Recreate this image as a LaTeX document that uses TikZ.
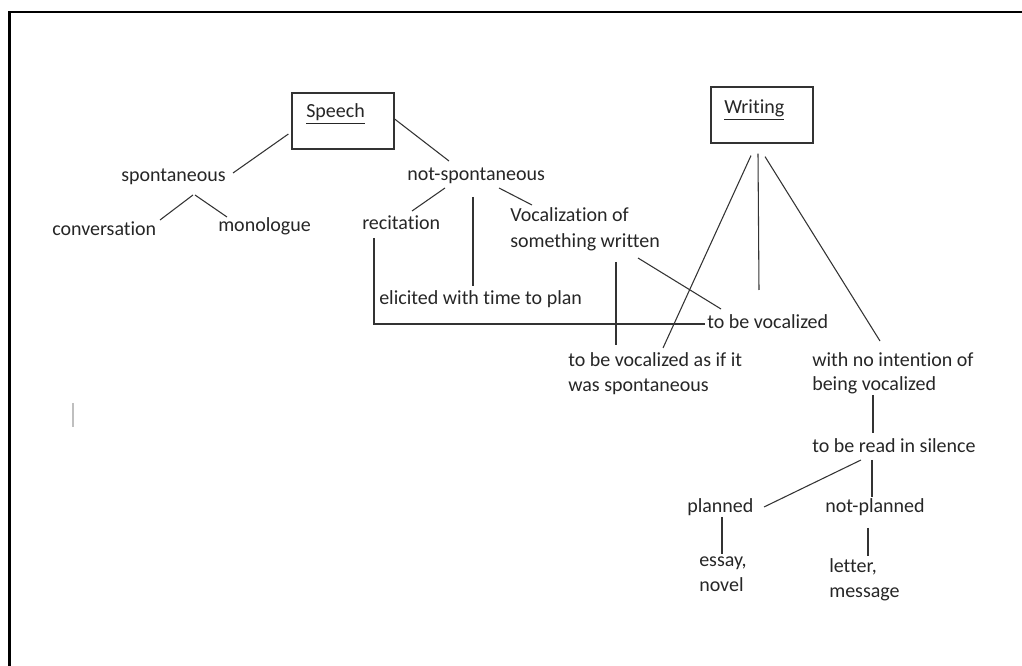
\documentclass[tikz,border=0pt]{standalone}
\usepackage{fontspec}
\setmainfont{Carlito}[Ligatures=NoCommon]
\usetikzlibrary{calc}
\begin{document}
\begin{tikzpicture}[x=0.75pt,y=-0.75pt,
  lbl/.style={anchor=base west,inner sep=0pt,font=\fontsize{15}{19}\selectfont,text=black!85},
  box/.style={draw=black!80,line width=0.9pt,minimum width=76.5pt,minimum height=42pt,inner sep=0pt},
  link/.style={draw=black!80,line width=0.8pt},
  frame/.style={draw=black,line width=1.9pt}]
\useasboundingbox (0,0) rectangle (1022,666);
% page frame (top and left only)
\coordinate (ftl) at (9.5,12);
\coordinate (ftr) at (1022,12);
\coordinate (fbl) at (9.5,666);
\draw[frame] (ftr) -- (ftl) -- (fbl);
% cursor mark
\coordinate (cur1) at (73,403);
\coordinate (cur2) at (73,427);
\draw[black!25,line width=1pt] (cur1) -- (cur2);
% boxes
\node[box] (speech) at (343,121) {};
\node[lbl] (speechlbl) at (306,118) {\underline{Speech}};
\node[box] (writing) at (762,115) {};
\node[lbl] (writinglbl) at (724,114) {\underline{Writing}};
% text nodes
\node[lbl] (spont) at (121,182) {spontaneous};
\node[lbl] (conv) at (52,236) {conversation};
\node[lbl] (mono) at (218,232) {monologue};
\node[lbl] (notsp) at (407,181) {not-spontaneous};
\node[lbl] (recit) at (362,230) {recitation};
\node[lbl] (vocala) at (510,222) {Vocalization of};
\node[lbl] (vocalb) at (510,248) {something written};
\node[lbl] (elicit) at (379,305) {elicited with time to plan};
\node[lbl] (tbv) at (707,329) {to be vocalized};
\node[lbl] (asifa) at (568,367) {to be vocalized as if it};
\node[lbl] (asifb) at (568,392) {was spontaneous};
\node[lbl] (nointa) at (812,367) {with no intention of};
\node[lbl] (nointb) at (812,391) {being vocalized};
\node[lbl] (silence) at (812,453) {to be read in silence};
\node[lbl] (planned) at (687,513) {planned};
\node[lbl] (notplanned) at (825,513) {not-planned};
\node[lbl] (essaya) at (699,567) {essay,};
\node[lbl] (essayb) at (699,592) {novel};
\node[lbl] (lettera) at (829,573) {letter,};
\node[lbl] (letterb) at (829,598) {message};
% connectors: speech side
\draw[link] ($(spont.base west)+(112,-9)$) -- ($(speech.west)+(-3,13)$);
\draw[link] ($(speech.east)+(0,-2)$) -- ($(notsp.base west)+(42,-20)$);
\draw[link] ($(spont.base west)+(72,13)$) -- ($(conv.base west)+(108,-16)$);
\draw[link] ($(spont.base west)+(74,13)$) -- ($(mono.base west)+(9,-15)$);
\draw[link] ($(notsp.base west)+(38,7)$) -- ($(recit.base west)+(50,-19)$);
\draw[link] ($(notsp.base west)+(66,16)$) -- ($(elicit.base west)+(94,-19)$);
\draw[link] ($(notsp.base west)+(92,7)$) -- ($(vocala.base west)+(22,-17)$);
\draw[link] ($(recit.base west)+(12,8)$) |- ($(tbv.base west)+(-2,-5)$);
\draw[link] ($(vocalb.base west)+(106,14)$) -- ($(asifa.base west)+(48,-22)$);
\draw[link] ($(vocalb.base west)+(128,10)$) -- ($(tbv.base west)+(14,-20)$);
% connectors: writing side
\draw[link] ($(writing.south)+(-11,12)$) -- ($(asifa.base west)+(95,-19)$);
\draw[link] ($(writing.south)+(-4,10)$) -- ($(tbv.base west)+(52,-39)$);
\draw[link] ($(writing.south)+(3,13)$) -- ($(nointa.base west)+(68,-26)$);
\draw[link] ($(nointb.base west)+(61,4)$) -- ($(silence.base west)+(61,-20)$);
\draw[link] ($(silence.base west)+(49,7)$) -- ($(planned.base west)+(77,-6)$);
\draw[link] ($(silence.base west)+(60,7)$) -- ($(notplanned.base west)+(47,-16)$);
\draw[link] ($(planned.base west)+(35,4)$) -- ($(essaya.base west)+(23,-13)$);
\draw[link] ($(notplanned.base west)+(43,15)$) -- ($(lettera.base west)+(39,-17)$);
\end{tikzpicture}
\end{document}
